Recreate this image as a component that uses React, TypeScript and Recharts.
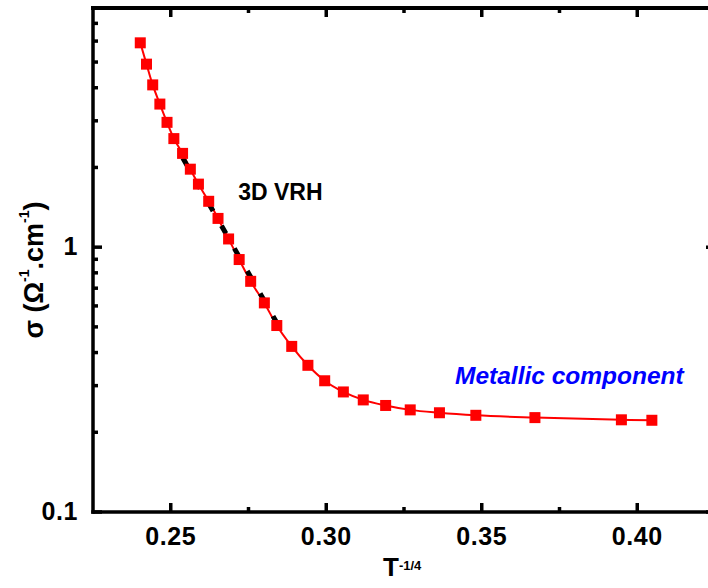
import React from "react";
import { ComposedChart, Line, XAxis, YAxis, ReferenceDot } from "recharts";

// Conductivity vs T^(-1/4)
const tInv = [
  0.2402, 0.2422, 0.2442, 0.2465, 0.2488, 0.251, 0.2538, 0.2563, 0.2589, 0.2622,
  0.2652, 0.2686, 0.272, 0.2757, 0.2801, 0.2841, 0.2889, 0.2941, 0.2995, 0.3055,
  0.3119, 0.3191, 0.327, 0.3364, 0.3481, 0.3671, 0.3949, 0.4047,
];
const sigma = [
  5.91, 4.91, 4.1, 3.47, 2.96, 2.57, 2.26, 1.97, 1.73, 1.49,
  1.284, 1.074, 0.898, 0.743, 0.616, 0.506, 0.422, 0.358, 0.313, 0.284,
  0.265, 0.2525, 0.243, 0.237, 0.2318, 0.2272, 0.2229, 0.222,
];

// 3D VRH linear fit (straight in log sigma vs T^-1/4)
const fitX = [0.2534, 0.2852];
const fitSigma = [2.22, 0.492];

const xMajor = [0.25, 0.3, 0.35, 0.4];
const xMinor = [0.275, 0.325, 0.375];
const yMajor = [0.1, 1];
const yMinor = [0.2, 0.3, 0.4, 0.5, 0.6, 0.7, 0.8, 0.9, 2, 3, 4, 5, 6, 7];

const xDomain = [0.225, 0.425];
const yDomain = [0.1, 8];

const rows = tInv.map((x, i) => ({ x, s: sigma[i] }));
const fitRows = fitX.map((x, i) => ({ x, s: fitSigma[i] }));

const FONT = "'Liberation Sans', Arial, Helvetica, sans-serif";
const MAJOR_LEN = 9;
const MINOR_LEN = 5;
const TICK_W = 3.5;
const FRAME_W = 3.5;

// chart box layout
const CHART_W = 730;
const CHART_H = 588;
const PLOT_TOP = 8;
const Y_AXIS_W = 93;
const X_AXIS_H = 76;

const xTicks = [...xMajor, ...xMinor].sort((a, b) => a - b);
const yTicks = [...yMajor, ...yMinor].sort((a, b) => a - b);

const isMajor = (list: number[], v: number) => list.some((m) => Math.abs(m - v) < 1e-9);

// Top and right edges of the box, with mirrored tick positions
const topEdge = [xDomain[0], ...xTicks, xDomain[1]].map((x) => ({ x, s: yDomain[1] }));
const rightEdge = [yDomain[0], ...yTicks, yDomain[1]].map((s) => ({ x: xDomain[1], s }));

const BottomTick = (props: any) => {
  const { x, y, payload } = props;
  const major = isMajor(xMajor, payload.value);
  return (
    <g>
      <line x1={x} x2={x} y1={y} y2={y - (major ? MAJOR_LEN : MINOR_LEN)} stroke="#000" strokeWidth={TICK_W} />
      {major && (
        <text
          x={x}
          y={y + 33}
          textAnchor="middle"
          fontFamily={FONT}
          fontWeight="bold"
          fontSize={25}
          letterSpacing={0.6}
          fill="#000"
        >
          {payload.value.toFixed(2)}
        </text>
      )}
    </g>
  );
};

const LeftTick = (props: any) => {
  const { x, y, payload } = props;
  const major = isMajor(yMajor, payload.value);
  return (
    <g>
      <line x1={x} x2={x + (major ? MAJOR_LEN : MINOR_LEN)} y1={y} y2={y} stroke="#000" strokeWidth={TICK_W} />
      {major && (
        <text
          x={x - 15}
          y={y + 8}
          textAnchor="end"
          fontFamily={FONT}
          fontWeight="bold"
          fontSize={25}
          letterSpacing={0.6}
          fill="#000"
        >
          {String(payload.value)}
        </text>
      )}
    </g>
  );
};

const TopTickDot = (props: any) => {
  const { cx, cy, index, payload } = props;
  const v = payload?.x;
  const inner = index > 0 && index < topEdge.length - 1;
  if (cx == null || cy == null || !inner) return <g key={`tt-${index}`} />;
  const len = isMajor(xMajor, v) ? MAJOR_LEN : MINOR_LEN;
  return <line key={`tt-${index}`} x1={cx} x2={cx} y1={cy} y2={cy + len} stroke="#000" strokeWidth={TICK_W} />;
};

const RightTickDot = (props: any) => {
  const { cx, cy, index, payload } = props;
  const v = payload?.s;
  const inner = index > 0 && index < rightEdge.length - 1;
  if (cx == null || cy == null || !inner) return <g key={`rt-${index}`} />;
  const len = isMajor(yMajor, v) ? MAJOR_LEN : MINOR_LEN;
  return <line key={`rt-${index}`} x1={cx} x2={cx - len} y1={cy} y2={cy} stroke="#000" strokeWidth={TICK_W} />;
};

const SquareDot = (props: any) => {
  const { cx, cy, index } = props;
  if (cx == null || cy == null) return <g key={`d-${index}`} />;
  return <rect key={`d-${index}`} x={cx - 5.5} y={cy - 5.5} width={11} height={11} fill="#ff0000" />;
};

const axisLineStyle = { stroke: "#000", strokeWidth: FRAME_W, strokeLinecap: "square" as const };

const YTitle = (props: any) => {
  const vb = props.viewBox || { x: 0, y: PLOT_TOP, width: Y_AXIS_W, height: 504 };
  const cx = vb.x + 43;
  const cy = vb.y + vb.height / 2 + 10;
  return (
    <text
      transform={`translate(${cx},${cy}) rotate(-90)`}
      textAnchor="middle"
      fontFamily={FONT}
      fontWeight="bold"
      fontSize={27}
      fill="#000"
    >
      σ (Ω
      <tspan dy={-14} fontSize={14}>-1</tspan>
      <tspan dy={14}>.cm</tspan>
      <tspan dy={-14} fontSize={14}>-1</tspan>
      <tspan dy={14}>)</tspan>
    </text>
  );
};

const XTitle = (props: any) => {
  const vb = props.viewBox || { x: Y_AXIS_W, y: 512, width: 622, height: X_AXIS_H };
  const x0 = vb.x + vb.width / 2 - 21;
  return (
    <text x={x0} y={vb.y + 64} textAnchor="start" fontFamily={FONT} fontWeight="bold" fontSize={26} fill="#000">
      T
      <tspan dy={-6} fontSize={13}>-1/4</tspan>
    </text>
  );
};

const VrhText = (props: any) => {
  const { x, y } = props.viewBox;
  return (
    <text x={x} y={y} dominantBaseline="central" fontFamily={FONT} fontWeight="bold" fontSize={23} fill="#000">
      3D VRH
    </text>
  );
};

const MetalText = (props: any) => {
  const { x, y } = props.viewBox;
  return (
    <text
      x={x}
      y={y}
      dominantBaseline="central"
      fontFamily={FONT}
      fontWeight="bold"
      fontStyle="italic"
      fontSize={24.5}
      fill="#0000ff"
    >
      Metallic component
    </text>
  );
};

export default function App() {
  return (
    <div
      style={{
        position: "absolute",
        left: 0,
        top: 0,
        width: 708,
        height: 588,
        overflow: "hidden",
        background: "#fff",
      }}
    >
      <div style={{ position: "absolute", left: 0, top: 0 }}>
        <ComposedChart width={CHART_W} height={CHART_H} margin={{ top: PLOT_TOP, right: 15, bottom: 0, left: 0 }}>
          <XAxis
            xAxisId="b"
            dataKey="x"
            type="number"
            domain={xDomain}
            ticks={xTicks}
            interval={0}
            height={X_AXIS_H}
            tickSize={0}
            tickMargin={0}
            tickLine={false}
            axisLine={axisLineStyle}
            tick={<BottomTick />}
            label={{ content: <XTitle /> }}
          />
          <YAxis
            yAxisId="l"
            dataKey="s"
            type="number"
            scale="log"
            domain={yDomain}
            ticks={yTicks}
            interval={0}
            width={Y_AXIS_W}
            tickSize={0}
            tickMargin={0}
            tickLine={false}
            axisLine={axisLineStyle}
            tick={<LeftTick />}
            label={{ content: <YTitle /> }}
          />

          <Line
            xAxisId="b"
            yAxisId="l"
            data={topEdge}
            dataKey="s"
            type="linear"
            stroke="#000"
            strokeWidth={FRAME_W}
            strokeLinecap="square"
            dot={<TopTickDot />}
            activeDot={false}
            isAnimationActive={false}
          />
          <Line
            xAxisId="b"
            yAxisId="l"
            data={rightEdge}
            dataKey="s"
            type="linear"
            stroke="#000"
            strokeWidth={FRAME_W}
            strokeLinecap="square"
            dot={<RightTickDot />}
            activeDot={false}
            isAnimationActive={false}
          />

          <Line
            xAxisId="b"
            yAxisId="l"
            data={rows}
            dataKey="s"
            type="monotone"
            stroke="#ff0000"
            strokeWidth={2}
            dot={<SquareDot />}
            activeDot={false}
            isAnimationActive={false}
          />
          <Line
            xAxisId="b"
            yAxisId="l"
            data={fitRows}
            dataKey="s"
            type="linear"
            stroke="#000"
            strokeWidth={5}
            strokeDasharray="9 17"
            strokeDashoffset={23}
            dot={false}
            activeDot={false}
            isAnimationActive={false}
          />
          <ReferenceDot
            xAxisId="b"
            yAxisId="l"
            x={0.2717}
            y={1.62}
            r={0}
            fill="none"
            stroke="none"
            label={{ content: <VrhText /> }}
          />
          <ReferenceDot
            xAxisId="b"
            yAxisId="l"
            x={0.3414}
            y={0.327}
            r={0}
            fill="none"
            stroke="none"
            label={{ content: <MetalText /> }}
          />
        </ComposedChart>
      </div>
      {/* upper edge of the plot box */}
      <div
        style={{
          position: "absolute",
          left: Y_AXIS_W - FRAME_W / 2,
          top: PLOT_TOP - FRAME_W / 2,
          width: CHART_W - Y_AXIS_W,
          height: FRAME_W,
          background: "#000",
        }}
      />
    </div>
  );
}
